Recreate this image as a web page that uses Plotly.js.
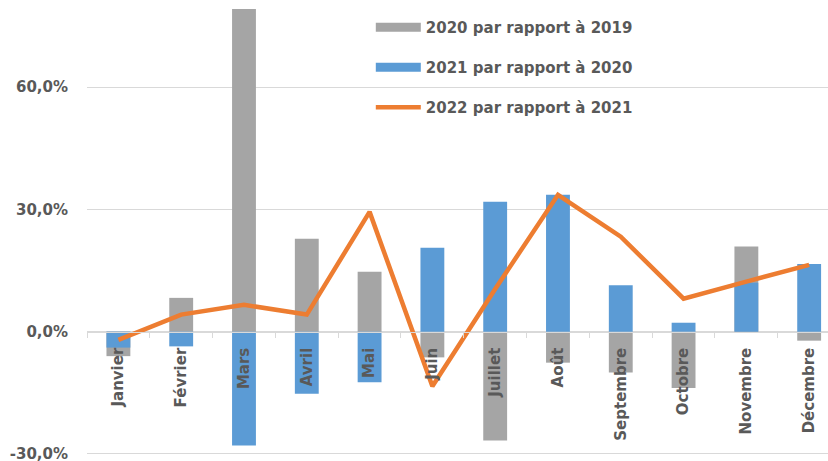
<!DOCTYPE html>
<html>
<head>
<meta charset="utf-8">
<script src="https://cdn.plot.ly/plotly-3.0.1.min.js"></script>
<style>
  html, body { margin: 0; padding: 0; background: #ffffff; }
  #chart { width: 828px; height: 461px; }
</style>
</head>
<body>
<div id="chart"></div>
<script>
// Data (percent values)
const months = ["Janvier", "Février", "Mars", "Avril", "Mai", "Juin", "Juillet", "Août", "Septembre", "Octobre", "Novembre", "Décembre"];
const var2020vs2019 = [-6.0, 8.3, 79.2, 22.8, 14.7, -6.3, -26.7, -7.6, -10.0, -13.8, 20.9, -2.2];
const var2021vs2020 = [-3.9, -3.6, -27.9, -15.2, -12.4, 20.6, 31.9, 33.6, 11.4, 2.2, 12.0, 16.6];
const var2022vs2021 = [-2.0, 4.2, 6.6, 4.2, 29.4, -13.4, 10.5, 33.6, 23.3, 8.1, 12.3, 16.4];
const seriesNames = ["2020 par rapport à 2019", "2021 par rapport à 2020", "2022 par rapport à 2021"];
const seriesColors = ["#a5a5a5", "#5b9bd5", "#ed7d31"];
const yTickVals = [-30, 0, 30, 60];
const yTickText = ["-30,0%", "0,0%", "30,0%", "60,0%"];

const yRange = [-30.5, 80.9];
const xRange = [-0.5, 11.3];
const zeroPos = (0 - yRange[0]) / (yRange[1] - yRange[0]);

const textColor = "#595959";
const baseFont = { family: "DejaVu Sans", size: 15, color: textColor, weight: "bold" };

const traces = [
  {
    type: "bar", x: months, y: var2020vs2019, name: seriesNames[0],
    marker: { color: seriesColors[0] }, width: 0.38, showlegend: false,
    hovertemplate: "%{x}: %{y:.1f}%<extra></extra>"
  },
  {
    type: "bar", x: months, y: var2021vs2020, name: seriesNames[1],
    marker: { color: seriesColors[1] }, width: 0.38, showlegend: false,
    hovertemplate: "%{x}: %{y:.1f}%<extra></extra>"
  },
  {
    type: "scatter", mode: "lines", x: months, y: var2022vs2021, name: seriesNames[2],
    line: { color: seriesColors[2], width: 4.5 }, legendgroup: "g3", legendrank: 3,
    hovertemplate: "%{x}: %{y:.1f}%<extra></extra>"
  },
  // legend keys for the bar series (wide flat rectangles, as in the reference)
  {
    type: "scatter", mode: "lines", x: [null], y: [null], name: seriesNames[0],
    line: { color: seriesColors[0], width: 9 }, legendgroup: "g1", legendrank: 1, hoverinfo: "skip"
  },
  {
    type: "scatter", mode: "lines", x: [null], y: [null], name: seriesNames[1],
    line: { color: seriesColors[1], width: 9 }, legendgroup: "g2", legendrank: 2, hoverinfo: "skip"
  }
];

const layout = {
  width: 828, height: 461,
  margin: { l: 87, r: 0, t: 2, b: 5 },
  paper_bgcolor: "#ffffff", plot_bgcolor: "#ffffff",
  barmode: "overlay",
  font: baseFont,
  showlegend: true,
  legend: {
    x: 0.383, y: 0.98, xanchor: "left", yanchor: "top",
    bgcolor: "rgba(0,0,0,0)", font: baseFont,
    tracegroupgap: 17.5, traceorder: "grouped", itemwidth: 45
  },
  xaxis: {
    type: "category", range: xRange,
    anchor: "free", position: zeroPos,
    showline: true, linecolor: "#d9d9d9", linewidth: 1,
    ticks: "outside", tickson: "boundaries", ticklen: 5, tickcolor: "#d9d9d9",
    tickangle: -90, tickfont: baseFont, ticklabelstandoff: 9,
    showgrid: false, zeroline: false, fixedrange: true
  },
  yaxis: {
    range: yRange, tickvals: yTickVals, ticktext: yTickText,
    tickfont: baseFont, showgrid: true, gridcolor: "#d9d9d9", gridwidth: 1,
    zeroline: false, showline: false, ticks: "", ticklabelstandoff: 18,
    ticklabeloverflow: "allow", fixedrange: true
  }
};

Plotly.newPlot("chart", traces, layout, { displayModeBar: false, staticPlot: true });
</script>
</body>
</html>
